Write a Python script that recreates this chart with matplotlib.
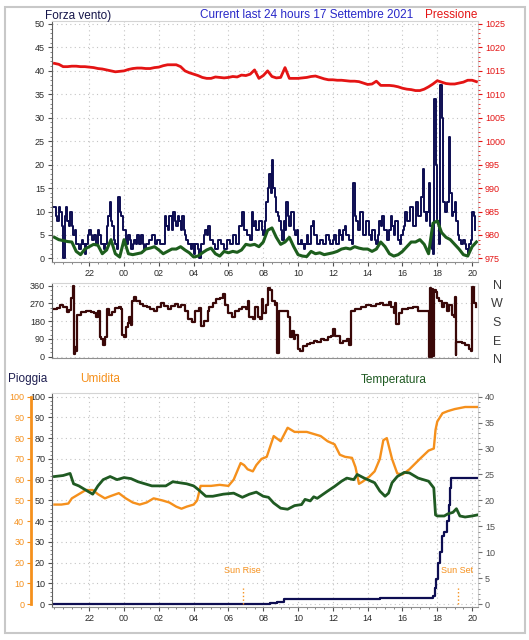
import numpy as np
import matplotlib.pyplot as plt
from matplotlib.ticker import MultipleLocator, FixedLocator
from matplotlib.patches import Rectangle

plt.rcParams['font.family'] = ['Liberation Sans', 'DejaVu Sans']

# ---- data (hours relative to midnight of 17 Sep; 22 -> -2) ----
# gusts, one reading every 5 minutes from 20:00
gust = [11, 9, 8, 11, 10, 7, 0, 9, 11, 8, 7, 10,
        7, 5, 6, 3, 3, 2, 3, 4, 3, 1, 3, 5,
        6, 5, 4, 5, 5, 3, 6, 5, 3, 3, 2, 3,
        7, 9, 12, 8, 7, 4, 3, 2, 13, 10, 9, 6,
        6, 3, 3, 5, 4, 2, 3, 4, 3, 5, 3, 3,
        5, 3, 2, 3, 3, 4, 4, 5, 5, 3, 3, 4,
        4, 3, 3, 3, 9, 7, 6, 9, 9, 6, 10, 8,
        7, 9, 8, 6, 9, 6, 5, 4, 3, 3, 2, 3,
        1, 3, 3, 2, 0, 3, 3, 5, 6, 5, 7, 4,
        4, 3, 3, 2, 2, 4, 4, 3, 3, 2, 2, 4,
        4, 3, 3, 5, 5, 3, 3, 7, 7, 10, 10, 6,
        6, 5, 5, 4, 10, 7, 8, 6, 6, 8, 8, 6,
        5, 8, 12, 15, 18, 14, 21, 15, 13, 10, 9, 8,
        6, 4, 8, 6, 12, 9, 7, 10, 10, 6, 5, 6,
        3, 3, 4, 3, 2, 3, 5, 3, 3, 7, 8, 5,
        5, 3, 3, 4, 4, 3, 3, 5, 5, 4, 3, 3,
        4, 5, 3, 3, 6, 5, 4, 6, 7, 5, 5, 4,
        4, 3, 16, 9, 8, 6, 6, 10, 10, 5, 5, 8,
        8, 5, 4, 6, 6, 4, 3, 5, 8, 7, 9, 6,
        6, 4, 4, 6, 9, 7, 5, 8, 8, 4, 3, 5,
        6, 7, 10, 8, 8, 11, 11, 7, 7, 12, 12, 9,
        9, 13, 19, 10, 8, 10, 16, 7, 2, 1, 34, 20,
        8, 3, 37, 30, 12, 10, 10, 12, 26, 14, 9, 10,
        12, 8, 5, 4, 3, 3, 4, 3, 2, 1, 3, 4,
        10, 9, 6]

wind_avg = [4.5, 4.0, 3.8, 3.6, 3.5, 1.5, 0.8, 2.0, 2.5, 3.0, 2.8, 1.0,
            1.8, 4.0, 1.0, 0.3, 4.0, 1.0, 0.8, 1.0, 1.2, 2.0, 2.2, 2.5,
            1.8, 1.0, 1.5, 2.0, 2.0, 2.5, 1.8, 1.2, 0.3, 0.5, 1.2, 1.8,
            2.2, 1.0, 0.5, 1.5, 1.2, 1.5, 1.3, 1.8, 3.0, 2.8, 3.0, 2.5,
            3.5, 6.0, 6.5, 4.5, 3.0, 3.5, 4.5, 2.5, 0.8, 0.5, 0.4, 1.5,
            1.0, 1.2, 0.8, 1.0, 1.2, 1.5, 2.0, 2.2, 2.0, 2.5, 2.2, 2.0,
            2.0, 1.5, 2.0, 3.5, 2.5, 1.0, 0.5, 0.8, 1.5, 2.5, 3.5, 3.5,
            4.0, 3.0, 1.0, 7.5, 8.0, 5.5, 4.5, 4.0, 3.0, 2.0, 0.8, 0.5,
            2.5, 3.5]

pressure = [1016.6, 1016.4, 1015.9, 1015.9, 1016.0, 1016.0, 1015.9, 1015.9,
            1015.8, 1015.7, 1015.5, 1015.4, 1015.2, 1015.0, 1014.8, 1014.9,
            1015.0, 1015.3, 1015.5, 1015.6, 1015.6, 1015.5, 1015.5, 1015.7,
            1015.8, 1016.1, 1016.3, 1016.3, 1016.3, 1015.9, 1015.0, 1014.6,
            1014.3, 1014.0, 1013.6, 1013.4, 1013.4, 1013.7, 1013.6, 1013.5,
            1013.6, 1013.8, 1013.7, 1014.1, 1014.0, 1014.3, 1015.2, 1013.4,
            1014.0, 1015.0, 1013.8, 1013.5, 1013.6, 1015.7, 1013.4, 1013.4,
            1013.4, 1013.5, 1013.6, 1013.8, 1013.9, 1013.6, 1013.3, 1013.1,
            1013.1, 1013.0, 1013.0, 1012.9, 1012.8, 1012.8, 1012.7, 1012.4,
            1012.1, 1012.2, 1012.8, 1011.9, 1011.9, 1011.9, 1011.8, 1011.6,
            1011.3, 1011.1, 1011.0, 1010.8, 1010.8, 1011.1, 1011.6, 1012.2,
            1012.9, 1012.6, 1012.3, 1012.2, 1012.2, 1012.4, 1012.6, 1013.0,
            1013.0, 1012.7]

dir_hours = [-4.0, -3.85, -3.7, -3.5, -3.3, -3.15, -3.05, -2.95, -2.9, -2.8,
             -2.75, -2.7, -2.5, -2.2, -1.9, -1.7, -1.6, -1.5, -1.4, -1.3,
             -1.2, -1.1, -1.0, -0.85, -0.7, -0.5, -0.3, -0.15, -0.1, 0.0,
             0.1, 0.2, 0.3, 0.4, 0.45, 0.55, 0.7, 0.9, 1.1, 1.3,
             1.5, 1.7, 1.9, 2.1, 2.3, 2.5, 2.7, 2.9, 3.1, 3.3,
             3.5, 3.7, 3.9, 4.05, 4.3, 4.45, 4.6, 4.8, 4.9, 5.1,
             5.3, 5.5, 5.7, 5.8, 6.0, 6.2, 6.4, 6.6, 6.8, 7.0,
             7.1, 7.2, 7.4, 7.5, 7.7, 7.8, 7.9, 8.0, 8.15, 8.3,
             8.4, 8.5, 8.65, 8.75, 8.8, 8.9, 9.3, 9.45, 9.55, 9.65,
             9.75, 9.85, 10.0, 10.1, 10.3, 10.5, 10.7, 10.9, 11.1, 11.3,
             11.5, 11.7, 11.9, 12.0, 12.15, 12.4, 12.6, 12.8, 12.95, 13.05,
             13.3, 13.6, 13.9, 14.2, 14.5, 14.7, 14.9, 15.2, 15.35, 15.5,
             15.55, 15.65, 15.8, 16.0, 16.3, 16.6, 16.9, 17.2, 17.45, 17.55,
             17.6, 17.65, 17.7, 17.75, 17.8, 17.9, 18.0, 18.1, 18.25, 18.4,
             18.55, 18.7, 18.85, 18.95, 19.0, 19.05, 19.1, 19.4, 19.6, 19.8,
             19.95, 20.0, 20.1, 20.25]
dir_deg = [240, 245, 262, 250, 228, 237, 300, 360, 15, 50,
           30, 210, 225, 230, 228, 220, 200, 230, 100, 90,
           60, 100, 240, 210, 225, 245, 250, 240, 110, 100,
           150, 170, 200, 160, 280, 305, 280, 265, 255, 250,
           240, 230, 250, 270, 255, 240, 255, 265, 250, 260,
           230, 190, 175, 230, 245, 155, 180, 230, 250, 270,
           290, 300, 320, 260, 220, 200, 230, 240, 250, 240,
           280, 200, 190, 250, 200, 190, 290, 220, 260, 350,
           340, 280, 260, 270, 20, 230, 230, 200, 100, 130,
           90, 110, 40, 30, 55, 65, 70, 80, 75, 90,
           85, 100, 105, 140, 105, 70, 80, 90, 60, 230,
           240, 250, 260, 255, 265, 270, 260, 275, 250, 220,
           270, 165, 220, 240, 245, 250, 230, 230, 230, 0,
           350, 0, 345, 5, 340, 330, 300, 280, 250, 270,
           230, 260, 210, 200, 305, 10, 75, 70, 60, 40,
           30, 355, 270, 250]

hum_hours = [-4.0, -3.6, -3.2, -3.0, -2.6, -2.2, -1.8, -1.5, -1.1, -0.8,
             -0.3, 0.1, 0.5, 0.9, 1.3, 1.7, 2.2, 2.6, 3.0, 3.3,
             3.6, 4.0, 4.2, 4.4, 5.0, 5.5, 6.0, 6.3, 6.5, 6.7,
             6.9, 7.1, 7.4, 7.6, 7.9, 8.2, 8.6, 9.0, 9.4, 9.8,
             10.5, 10.9, 11.3, 11.7, 12.1, 12.4, 12.7, 13.1, 13.3, 13.5,
             13.7, 14.1, 14.4, 14.7, 14.9, 15.1, 15.4, 15.7, 16.0, 16.4,
             17.0, 17.5, 17.8, 17.9, 18.0, 18.3, 18.6, 19.0, 19.6, 20.3]
humidity = [48, 48, 48.5, 51, 53, 55, 55, 53, 51, 52,
            53.5, 51, 49, 48, 49, 51, 50, 49, 47, 46,
            47, 48, 50, 57, 57, 57.5, 57, 60, 64, 68,
            67, 65, 64, 67, 70, 71, 81, 78.5, 85, 83,
            83, 82, 81, 78.5, 77, 72, 71, 70.5, 66, 58,
            59, 61.5, 64, 70, 79, 80, 70, 63, 62.5, 65,
            70, 74, 75, 84, 88, 92, 93, 94, 95, 95]

temp_hours = [-4.0, -3.5, -3.1, -2.9, -2.6, -2.2, -1.8, -1.5, -1.2, -0.8,
              -0.4, 0.0, 0.4, 0.8, 1.2, 1.6, 2.0, 2.4, 2.8, 3.2,
              3.6, 4.0, 4.3, 4.7, 5.1, 5.7, 6.3, 6.8, 7.2, 7.6,
              8.0, 8.3, 8.6, 9.0, 9.4, 9.8, 10.2, 10.4, 10.7, 10.9,
              11.1, 11.7, 12.1, 12.5, 12.8, 13.2, 13.4, 13.8, 14.4, 14.7,
              15.0, 15.2, 15.4, 15.7, 16.1, 16.4, 16.9, 17.5, 17.8, 17.9,
              18.0, 18.4, 18.6, 18.9, 19.1, 19.3, 19.6, 20.0, 20.3]
temperature = [24.6, 24.8, 25.2, 23.2, 22.8, 22.0, 21.2, 22.8, 24.0, 24.6,
               24.0, 24.4, 24.2, 23.6, 23.2, 22.8, 22.8, 22.8, 23.6, 23.4,
               23.2, 22.8, 22.0, 20.8, 20.8, 21.2, 21.4, 20.6, 21.2, 21.6,
               20.8, 20.6, 19.5, 18.5, 18.3, 19.0, 19.2, 20.2, 19.9, 20.7,
               20.4, 21.8, 22.7, 23.7, 24.3, 24.0, 25.0, 24.3, 23.4, 21.8,
               20.8, 21.4, 23.4, 24.6, 25.4, 25.3, 24.3, 23.7, 22.4, 17.2,
               17.0, 17.0, 17.4, 17.7, 18.4, 17.0, 16.8, 17.0, 17.2]

rain_hours = [-4.0, 8.0, 8.4, 8.8, 9.2, 14.7, 17.75, 17.85, 17.95, 18.05,
              18.15, 18.25, 18.4, 18.55, 18.65, 18.75, 18.8, 20.3]
rain = [0, 0, 0.8, 1.3, 2.6, 3.2, 4, 8, 12, 20,
        25, 33, 35, 40, 48, 56, 61, 61]

sunrise = 6.82
sunset = 19.18

hour_ticks = list(range(-2, 21, 2))
hour_labels = [f"{h % 24:02d}" for h in hour_ticks]

# ---- colours ----
NAVY = '#0d0d52'
GREEN_W = '#1d5e1d'
RED = '#e41414'
MAROON = '#3a0808'
ORANGE = '#f5901c'
GREEN_T = '#1f5a22'
GRID = '#c4c4c4'
TXT = '#2a2a2a'

W, H = 529, 640
fig = plt.figure(figsize=(W / 100, H / 100), dpi=100)


def rect(l, t, r, b):
    return [l / W, 1 - b / H, (r - l) / W, (b - t) / H]


XMIN, XMAX = -4.14, 20.34


def style_axes(ax, show_x=True):
    ax.set_xlim(XMIN, XMAX)
    for s in ['top', 'right']:
        ax.spines[s].set_color('#d4d4d4')
    ax.spines['left'].set_color('#606060')
    ax.spines['bottom'].set_color('#909090')
    ax.tick_params(axis='both', which='major', labelsize=6.5, length=3,
                   colors='#505050', labelcolor=TXT, pad=2)
    ax.tick_params(axis='both', which='minor', length=1.5, colors='#707070')
    ax.xaxis.set_major_locator(FixedLocator(hour_ticks))
    ax.xaxis.set_minor_locator(MultipleLocator(0.5))
    if show_x:
        ax.set_xticklabels(hour_labels)
    else:
        ax.tick_params(axis='x', which='both', bottom=False, labelbottom=False)


# ==========================================
# 1. Wind speed + pressure
# ==========================================
ax1 = fig.add_axes(rect(52, 20.7, 478, 261.7))
style_axes(ax1)
ax1.set_ylim(-0.7, 50.7)
ax1.yaxis.set_major_locator(MultipleLocator(5))
ax1.yaxis.set_minor_locator(MultipleLocator(1))
ax1.grid(True, which='major', color=GRID, linestyle=(0, (1, 3)), linewidth=0.8)

t_gust = np.linspace(-4.0, 20.17, len(gust))
t_avg = np.linspace(-4.0, 20.25, len(wind_avg))
ax1.plot(t_gust, gust, color=NAVY, lw=1.4, drawstyle='steps-post')
ax1.plot(t_avg, wind_avg, color=GREEN_W, lw=2.2)

ax1p = ax1.twinx()
ax1p.set_ylim(975 - 0.7, 1025.7)
ax1p.yaxis.set_major_locator(MultipleLocator(5))
ax1p.yaxis.set_minor_locator(MultipleLocator(1))
ax1p.tick_params(axis='y', which='major', labelsize=6.5, length=3,
                 colors=RED, labelcolor=RED, pad=2)
ax1p.tick_params(axis='y', which='minor', length=1.5, colors=RED)
for s in ax1p.spines.values():
    s.set_visible(False)
t_p = np.linspace(-4.0, 20.25, len(pressure))
ax1p.plot(t_p, pressure, color=RED, lw=2.0)

fig.text(45 / W, 1 - 15.5 / H, 'Forza vento)', color='#15154a', fontsize=8.5,
         va='center', ha='left')
fig.text(200 / W, 1 - 15.5 / H, 'Current last 24 hours 17 Settembre 2021',
         color='#2828c8', fontsize=8.5, va='center', ha='left')
fig.text(477 / W, 1 - 15.5 / H, 'Pressione', color=RED, fontsize=8.5,
         va='center', ha='right')

# ==========================================
# 2. Wind direction
# ==========================================
ax2 = fig.add_axes(rect(52, 283.3, 478, 358.3))
style_axes(ax2, show_x=False)
ax2.set_ylim(-8, 372)
ax2.yaxis.set_major_locator(FixedLocator([0, 90, 180, 270, 360]))
ax2.yaxis.set_minor_locator(MultipleLocator(22.5))
ax2.grid(True, axis='y', which='major', color=GRID, linestyle=(0, (1, 3)),
         linewidth=0.8)
ax2.plot(dir_hours, dir_deg, color=MAROON, lw=1.6, drawstyle='steps-post')

for lab, ypx in zip(['N', 'W', 'S', 'E', 'N'], [286, 304, 323, 342, 360]):
    fig.text(497 / W, 1 - ypx / H, lab, color='#3a3a3a', fontsize=9,
             ha='center', va='center')

# ==========================================
# 3. Rain, humidity, temperature
# ==========================================
ax3 = fig.add_axes(rect(52, 393.3, 478, 606.7))
style_axes(ax3)
ax3.set_ylim(-1.2, 101.6)
ax3.yaxis.set_major_locator(MultipleLocator(10))
ax3.yaxis.set_minor_locator(MultipleLocator(2))
ax3.grid(True, which='major', color=GRID, linestyle=(0, (1, 3)), linewidth=0.8)

ax3t = ax3.twinx()
ax3t.set_ylim(-1.2 * 0.4, 101.6 * 0.4)
ax3t.yaxis.set_major_locator(MultipleLocator(5))
ax3t.yaxis.set_minor_locator(MultipleLocator(1))
ax3t.tick_params(axis='y', which='major', labelsize=6.5, length=3,
                 colors='#707070', labelcolor='#505050', pad=2)
ax3t.tick_params(axis='y', which='minor', length=1.5, colors='#808080')
for s in ax3t.spines.values():
    s.set_visible(False)

ax3o = ax3.twinx()
ax3o.set_ylim(-1.2, 101.6)
ax3o.yaxis.set_ticks_position('left')
ax3o.yaxis.set_label_position('left')
for s in ['top', 'right', 'bottom']:
    ax3o.spines[s].set_visible(False)
ax3o.spines['left'].set_position(('outward', 15))
ax3o.spines['left'].set_color(ORANGE)
ax3o.spines['left'].set_linewidth(2)
ax3o.spines['left'].set_bounds(0, 100)
ax3o.yaxis.set_major_locator(MultipleLocator(10))
ax3o.tick_params(axis='y', which='major', labelsize=6.5, length=3,
                 colors=ORANGE, labelcolor=ORANGE, pad=2)

ax3.plot(hum_hours, humidity, color=ORANGE, lw=1.7)
ax3t.plot(temp_hours, temperature, color=GREEN_T, lw=2.0)
ax3.plot(rain_hours, rain, color=NAVY, lw=1.6, drawstyle='steps-post')

ax3.vlines([sunrise, sunset], 0, 8, colors=ORANGE, linestyles=':', lw=1)
ax3.text(sunrise, 16, 'Sun Rise', color=ORANGE, fontsize=6.5, ha='center',
         va='center')
ax3.text(sunset - 0.05, 16, 'Sun Set', color=ORANGE, fontsize=6.5, ha='center',
         va='center')

fig.text(8 / W, 1 - 379 / H, 'Pioggia', color='#1e1e50', fontsize=8.5,
         va='center', ha='left')
fig.text(80 / W, 1 - 379 / H, 'Umidita', color=ORANGE, fontsize=8.5,
         va='center', ha='left')
fig.text(394 / W, 1 - 380 / H, 'Temperatura', color=GREEN_T, fontsize=8.5,
         va='center', ha='center')

# outer frame
fig.patches.append(Rectangle((5 / W, 7 / H), 520 / W, 626 / H,
                             transform=fig.transFigure, fill=False,
                             ec='#c8c8c8', lw=1.5))

fig.savefig('out.png', dpi=100)
